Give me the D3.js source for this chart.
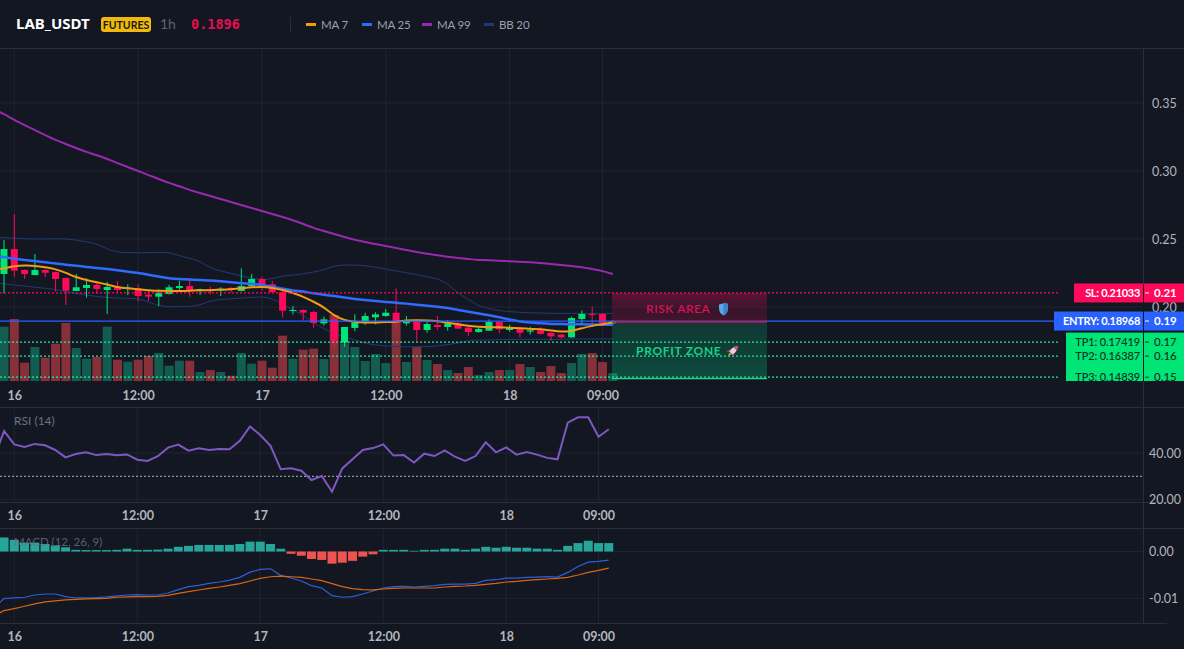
<!DOCTYPE html>
<html>
<head>
<meta charset="utf-8">
<script src="https://cdn.jsdelivr.net/npm/d3@7/dist/d3.min.js"></script>
<style>
html,body{margin:0;padding:0;background:#131722;overflow:hidden}
svg{display:block}
text{font-family:Lato,"Noto Sans",sans-serif}
</style>
</head>
<body>
<svg id="chart" width="1184" height="649"></svg>
<script>
// Hourly candles; index 0 is the 00:00 bar of the 16th, the first bar is index -1.
const firstBar = -1;
const opens = [.2243,.2426,.2272,.2235,.2272,.2257,.2213,.2118,.2140,.2162,.2125,.2147,.2135,.2137,.2091,.2076,.2096,.2140,.2154,.2125,.2132,.2130,.2140,.2118,.2154,.2206,.2167,.2110,.1973,.1978,.1963,.1880,.1909,.1738,.1846,.1887,.1924,.1934,.1958,.1880,.1892,.1831,.1868,.1853,.1880,.1848,.1816,.1826,.1890,.1831,.1838,.1819,.1828,.1809,.1797,.1777,.1912,.1949,.1949,.1880];
const closes = [.2426,.2267,.2243,.2272,.2252,.2206,.2120,.2145,.2162,.2132,.2147,.2125,.2142,.2081,.2076,.2103,.2145,.2154,.2120,.2132,.2125,.2135,.2130,.2154,.2206,.2164,.2110,.1973,.1978,.1958,.1882,.1909,.1750,.1853,.1887,.1934,.1946,.1958,.1892,.1897,.1831,.1875,.1853,.1880,.1841,.1816,.1838,.1890,.1836,.1848,.1811,.1828,.1802,.1784,.1777,.1919,.1949,.1944,.1880,.1896];
const highs = [.2492,.2684,.2277,.2390,.2277,.2260,.2216,.2243,.2211,.2174,.2184,.2191,.2167,.2167,.2130,.2130,.2162,.2191,.2208,.2135,.2149,.2145,.2149,.2284,.2243,.2221,.2191,.2125,.2007,.1983,.1971,.1929,.1941,.1853,.1946,.1958,.1961,.1985,.2137,.1934,.1909,.1897,.1934,.1904,.1892,.1855,.1848,.1909,.1897,.1868,.1855,.1855,.1851,.1814,.1802,.1929,.1975,.2002,.1953,.1905];
const lows = [.2100,.2223,.2206,.2233,.2218,.2113,.2015,.2118,.2069,.2100,.1949,.2105,.2088,.2039,.2044,.2007,.2091,.2120,.2076,.2088,.2096,.2081,.2105,.2115,.2149,.2120,.2105,.1922,.1946,.1900,.1848,.1863,.1704,.1708,.1824,.1868,.1873,.1929,.1848,.1863,.1745,.1811,.1831,.1826,.1838,.1787,.1811,.1824,.1809,.1819,.1775,.1797,.1797,.1753,.1767,.1772,.1868,.1875,.1868,.1875];
const volumes = [165,188,57,104,72,114,176,101,69,74,165,66,60,66,77,86,48,63,63,29,35,29,18,86,54,63,42,138,69,96,99,68,200,115,104,62,83,56,180,59,104,65,53,35,26,44,20,29,35,35,53,44,29,47,26,56,83,86,59,26];

// Overlay and oscillator lines start one bar earlier, at index -2.
const firstLine = -2;
const ma7 = [.2272,.2284,.2301,.2306,.2304,.2292,.2279,.2252,.2218,.2198,.2181,.2167,.2145,.2137,.2130,.2123,.2118,.2118,.2118,.2120,.2123,.2123,.2127,.2130,.2137,.2145,.2149,.2142,.2125,.2105,.2076,.2039,.2000,.1934,.1902,.1890,.1885,.1885,.1890,.1890,.1902,.1904,.1902,.1897,.1885,.1873,.1860,.1855,.1851,.1851,.1848,.1843,.1838,.1838,.1828,.1816,.1824,.1843,.1863,.1873,.1887];
const ma25 = [.2375,.2368,.2353,.2345,.2338,.2328,.2321,.2311,.2304,.2294,.2287,.2279,.2270,.2260,.2250,.2238,.2223,.2211,.2206,.2203,.2198,.2196,.2189,.2181,.2174,.2172,.2162,.2149,.2135,.2120,.2115,.2100,.2091,.2081,.2069,.2059,.2051,.2044,.2037,.2032,.2025,.2017,.2010,.2002,.1993,.1978,.1966,.1953,.1939,.1924,.1909,.1892,.1885,.1880,.1875,.1875,.1873,.1873,.1870,.1870,.1870];
const ma99 = [.3456,.3419,.3374,.3338,.3301,.3264,.3227,.3198,.3169,.3139,.3117,.3088,.3058,.3029,.3000,.2970,.2941,.2911,.2889,.2860,.2838,.2816,.2794,.2772,.2750,.2728,.2706,.2684,.2662,.2639,.2610,.2581,.2559,.2537,.2515,.2492,.2478,.2463,.2448,.2434,.2419,.2404,.2390,.2382,.2368,.2360,.2353,.2345,.2345,.2338,.2338,.2331,.2331,.2323,.2316,.2309,.2301,.2294,.2279,.2265,.2243];
const bbUpper = [.2510,.2510,.2507,.2502,.2500,.2500,.2502,.2502,.2492,.2478,.2468,.2424,.2402,.2399,.2399,.2399,.2402,.2402,.2377,.2358,.2338,.2284,.2265,.2247,.2228,.2213,.2198,.2208,.2228,.2235,.2243,.2257,.2272,.2304,.2309,.2309,.2304,.2292,.2279,.2265,.2252,.2238,.2223,.2208,.2172,.2100,.2056,.2007,.1988,.1973,.1966,.1961,.1958,.1956,.1953,.1953,.1953,.1953,.1953,.1953,.1953];
const bbLower = [.2174,.2172,.2162,.2154,.2145,.2137,.2130,.2113,.2100,.2088,.2076,.2071,.2066,.2064,.2061,.2039,.2007,.2002,.2002,.2005,.2012,.2047,.2056,.2061,.2066,.2071,.2076,.2064,.2022,.1978,.1941,.1880,.1843,.1802,.1782,.1757,.1733,.1721,.1713,.1708,.1708,.1708,.1708,.1713,.1723,.1735,.1755,.1757,.1757,.1760,.1762,.1762,.1762,.1762,.1762,.1762,.1765,.1765,.1765,.1765,.1765];
const rsi = [37.7,49.4,43.7,42.6,43.9,43.3,41.3,38.1,39.6,40.3,39.1,39.6,39.0,39.4,37.1,36.6,38.6,42.3,43.6,41.0,42.0,41.3,41.7,41.6,45.2,51.4,47.7,43.1,33.0,33.4,32.4,28.4,30.1,23.4,33.4,37.3,41.3,42.1,43.7,38.9,39.1,35.9,39.7,38.7,41.1,38.4,36.6,38.7,44.6,40.3,42.4,39.3,40.4,39.3,37.9,37.3,53.0,55.3,55.3,47.0,50.2];
const macdLine = [-.01205,-.01007,-.00993,-.00978,-.00929,-.00908,-.00908,-.00964,-.00993,-.00993,-.00986,-.00971,-.00950,-.00929,-.00922,-.00929,-.00929,-.00886,-.00815,-.00752,-.00723,-.00681,-.00652,-.00610,-.00553,-.00440,-.00383,-.00369,-.00510,-.00567,-.00631,-.00730,-.00780,-.00943,-.00978,-.00964,-.00908,-.00844,-.00780,-.00752,-.00744,-.00759,-.00744,-.00730,-.00702,-.00695,-.00695,-.00681,-.00617,-.00603,-.00567,-.00567,-.00553,-.00546,-.00539,-.00546,-.00447,-.00319,-.00227,-.00213,-.00184];
const signalLine = [-.01383,-.01262,-.01219,-.01170,-.01120,-.01078,-.01056,-.01035,-.01021,-.01014,-.01007,-.01000,-.00978,-.00971,-.00964,-.00964,-.00957,-.00936,-.00893,-.00858,-.00822,-.00787,-.00759,-.00723,-.00688,-.00631,-.00574,-.00539,-.00525,-.00539,-.00553,-.00588,-.00624,-.00688,-.00752,-.00794,-.00815,-.00822,-.00801,-.00787,-.00780,-.00780,-.00780,-.00780,-.00759,-.00744,-.00737,-.00723,-.00702,-.00681,-.00652,-.00638,-.00617,-.00603,-.00588,-.00574,-.00553,-.00503,-.00447,-.00404,-.00355];
const macdHist = [.0030,.0025,.0019,.0019,.0016,.0013,.0009,.00035,.0003,.0003,.0003,.00035,.0006,.00035,.00035,.0004,.0006,.0010,.0012,.0014,.0014,.0014,.0014,.0016,.0021,.0021,.0016,.0006,-.0005,-.0009,-.0016,-.0018,-.0026,-.0024,-.0020,-.0011,-.0006,.00035,.00035,.00035,.00015,.00035,.00035,.0006,.0006,.00035,.0006,.0010,.0008,.0010,.0008,.0008,.0006,.0006,.00035,.0012,.0018,.0023,.0018,.0018];

// Time axis and price levels.
const timeTicks = [0,12,24,36,48,57];
const timeLabels = ["16","12:00","17","12:00","18","09:00"];
const priceTicks = [.35,.30,.25,.20];
const levelNames = ["SL","ENTRY","TP1","TP2","TP3"];
const levelPrices = [.21033,.18968,.17419,.16387,.14839];
const levelAxisLabels = ["0.21","0.19","0.17","0.16","0.15"];
const rsiTicks = [40,20];
const macdTicks = [0,-.01];
const legendNames = ["MA 7","MA 25","MA 99","BB 20"];
const lastPrice = .1896;

const C = {bg:"#131722",grid:"#1f2430",border:"#2a2e39",axis:"#b2b5be",up:"#00e676",down:"#ff0a5a",
  volUp:"#125c50",volDown:"#873039",ma7:"#f39c12",ma25:"#2f6bff",ma99:"#9c27b0",bb:"#1f3a78",
  rsi:"#7e57c2",mUp:"#26a69a",mDown:"#ef5350",mLine:"#2e5fd8",mSig:"#d9660f",entry:"#2962ff"};

const svg = d3.select("#chart");
const W = 1184, axisX = 1143;
const defs = svg.append("defs");
const clip = (id,x,y,w,h)=>defs.append("clipPath").attr("id",id).append("rect").attr("x",x).attr("y",y).attr("width",w).attr("height",h);
clip("mainClip",0,49,axisX,332);
clip("rsiClip",0,408,axisX,94);
clip("macdClip",0,529,axisX,94);
clip("tagClip",0,49,W,332);

const xMain = d3.scaleLinear().domain([0,57]).range([14.3,602.5]);
const xSub = d3.scaleLinear().domain([0,57]).range([14.3,598.5]);
const yPrice = d3.scaleLinear().domain([.2,.35]).range([307,103]);
const yVol = d3.scaleLinear().domain([0,200]).range([381.7,315]);
const yRsi = d3.scaleLinear().domain([20,40]).range([499.6,453]);
const yMacd = d3.scaleLinear().domain([-.01,0]).range([598.3,551.5]);

const bars = opens.map((o,k)=>({i:k+firstBar,o,c:closes[k],h:highs[k],l:lows[k],v:volumes[k],m:macdHist[k]}));

// Pane frames
const hLine=(y,x2,col)=>svg.append("line").attr("x1",0).attr("x2",x2).attr("y1",y).attr("y2",y).attr("stroke",col||C.border);
hLine(48.5,W);hLine(407.5,W);hLine(502.5,1167);hLine(528.5,W);hLine(623.5,1167);

// Time axes with grid lines for each pane
function timeAxis(x,top,bottom,labelBase){
  const g = svg.append("g").attr("transform",`translate(0,${bottom})`);
  g.call(d3.axisBottom(x).tickValues(timeTicks).tickFormat((d,k)=>timeLabels[k]).tickSize(0).tickPadding(labelBase-bottom-10));
  g.select(".domain").remove();
  g.selectAll("text").attr("fill",C.axis).attr("font-size",12.5).attr("font-weight",700).style("font-family",'Lato,"Noto Sans",sans-serif');
  svg.append("g").selectAll("line").data(timeTicks).join("line")
    .attr("x1",d=>x(d)).attr("x2",d=>x(d)).attr("y1",top).attr("y2",bottom).attr("stroke",C.grid);
}
timeAxis(xMain,49,381,401);
timeAxis(xSub,408,502,521);
timeAxis(xSub,529,623,642);
svg.append("line").attr("x1",axisX+.5).attr("x2",axisX+.5).attr("y1",49).attr("y2",623).attr("stroke",C.border);

// Value axes
function valueAxis(y,ticks,fmt,pad){
  const g = svg.append("g").attr("transform",`translate(${axisX},0)`);
  g.call(d3.axisRight(y).tickValues(ticks).tickFormat(fmt).tickSize(0).tickPadding(pad));
  g.select(".domain").remove();
  g.selectAll("line").attr("stroke",C.border);
  g.selectAll("text").attr("fill",C.axis).attr("font-size",12.5).style("font-family",'Lato,"Noto Sans",sans-serif');
  svg.append("g").selectAll("line").data(ticks).join("line")
    .attr("x1",0).attr("x2",axisX).attr("y1",d=>y(d)).attr("y2",d=>y(d)).attr("stroke",C.grid);
}
valueAxis(yPrice,priceTicks,d3.format(".2f"),9);
valueAxis(yRsi,rsiTicks,d3.format(".2f"),6);
valueAxis(yMacd,macdTicks,d=>d3.format(".2f")(d).replace("−","-"),6);

// Main pane marks
const main = svg.append("g").attr("clip-path","url(#mainClip)");
main.append("g").selectAll("rect").data(bars).join("rect")
  .attr("x",d=>xMain(d.i)-4.5).attr("width",9).attr("y",d=>yVol(d.v)).attr("height",d=>yVol(0)-yVol(d.v))
  .attr("fill",d=>d.c>=d.o?C.volUp:C.volDown);

const lineIn=(x,y,curve)=>d3.line().x((d,k)=>x(k+firstLine)).y(d=>y(d)).curve(curve||d3.curveLinear);
const priceLine = lineIn(xMain,yPrice,d3.curveBasis);
[[bbUpper,C.bb,1],[bbLower,C.bb,1],[ma99,C.ma99,2]].forEach(([s,c,w])=>
  main.append("path").attr("d",priceLine(s)).attr("fill","none").attr("stroke",c).attr("stroke-width",w));

// Level lines
levelNames.forEach((n,k)=>{
  const isEntry = n==="ENTRY", isSL = n==="SL", y = yPrice(levelPrices[k]);
  svg.append("line").attr("x1",0).attr("x2",1060).attr("y1",y).attr("y2",y)
    .attr("stroke",isEntry?C.entry:isSL?C.down:"#2ee6a0").attr("stroke-width",isEntry?1.3:1.2)
    .attr("stroke-dasharray",isEntry?null:"2 2");
});

const cg = main.append("g");
cg.selectAll("line").data(bars).join("line")
  .attr("x1",d=>xMain(d.i)).attr("x2",d=>xMain(d.i)).attr("y1",d=>yPrice(d.h)).attr("y2",d=>yPrice(d.l))
  .attr("stroke",d=>d.c>=d.o?C.up:C.down);
cg.selectAll("rect").data(bars).join("rect")
  .attr("x",d=>xMain(d.i)-3.5).attr("width",7)
  .attr("y",d=>yPrice(Math.max(d.o,d.c)))
  .attr("height",d=>Math.max(1,yPrice(Math.min(d.o,d.c))-yPrice(Math.max(d.o,d.c))))
  .attr("fill",d=>d.c>=d.o?C.up:C.down);

[[ma25,C.ma25,2.5],[ma7,C.ma7,2]].forEach(([s,c,w])=>
  main.append("path").attr("d",priceLine(s)).attr("fill","none").attr("stroke",c).attr("stroke-width",w));

// Risk and profit zones
const grad=(id,stops)=>{const g=defs.append("linearGradient").attr("id",id).attr("x1",0).attr("x2",0).attr("y1",0).attr("y2",1);
  stops.forEach(([o,c,a])=>g.append("stop").attr("offset",o).attr("stop-color",c).attr("stop-opacity",a));};
grad("riskFill",[[0,"#ff0a5a",.32],[.6,"#ff0a5a",.15],[1,"#ff0a5a",.2]]);
grad("profitFill",[[0,"#00dc8c",.17],[.5,"#00dc8c",.2],[1,"#00dc8c",.27]]);
const zoneX0 = 612, zoneX1 = 767;
const [ySL,yEntry,,,yTP3] = levelPrices.map(p=>yPrice(p));
svg.append("rect").attr("x",zoneX0).attr("width",zoneX1-zoneX0).attr("y",ySL).attr("height",yEntry-ySL).attr("fill","url(#riskFill)");
svg.append("rect").attr("x",zoneX0).attr("width",zoneX1-zoneX0).attr("y",yEntry).attr("height",yTP3+1.5-yEntry).attr("fill","url(#profitFill)");
svg.append("line").attr("x1",zoneX0).attr("x2",zoneX1).attr("y1",yEntry+1).attr("y2",yEntry+1).attr("stroke","#c4144f").attr("stroke-width",1.5);
svg.append("line").attr("x1",zoneX0).attr("x2",zoneX1).attr("y1",yTP3+1.5).attr("y2",yTP3+1.5).attr("stroke","#1fd68a").attr("stroke-width",1.2);
svg.append("text").attr("x",646).attr("y",313).text("RISK AREA").attr("fill","#e01058").attr("font-size",12).attr("font-weight",500).attr("letter-spacing",.6);
svg.append("text").attr("x",636).attr("y",355).text("PROFIT ZONE").attr("fill","#12d484").attr("font-size",12).attr("font-weight",700).attr("letter-spacing",.7);
// Small shield and rocket symbols beside the zone captions
svg.append("path").attr("d","M719 304.5 Q723.5 302.5 728 304.5 L728 309 Q727.5 313.5 723.5 315.5 Q719.5 313.5 719 309Z").attr("fill","#5aa7e8");
svg.append("path").attr("d","M723.5 302.8 Q728 302.5 728 304.5 L728 309 Q727.5 313.5 723.5 315.5Z").attr("fill","#3d85c9");
const rocket = svg.append("g").attr("transform","translate(733,351) rotate(45)");
rocket.append("path").attr("d","M0 -7 Q3.2 -3 2.6 3 L-2.6 3 Q-3.2 -3 0 -7Z").attr("fill","#d9d6dc");
rocket.append("path").attr("d","M0 -7 Q2 -5 2.6 -3 L-2.6 -3 Q-2 -5 0 -7Z").attr("fill","#e0407a");
rocket.append("path").attr("d","M-2.6 1 L-4.5 5 L-1.5 3Z M2.6 1 L4.5 5 L1.5 3Z").attr("fill","#e0407a");
rocket.append("path").attr("d","M-1.5 3.5 L0 7 L1.5 3.5Z").attr("fill","#f39c12");

// Level tags on the value axis
const tags = svg.append("g").attr("clip-path","url(#tagClip)");
const tagStyle = {SL:[C.down,"#fff",1074],ENTRY:[C.entry,"#fff",1054],TP1:[C.up,"#0d2f22",1066],TP2:[C.up,"#0d2f22",1066],TP3:[C.up,"#0d2f22",1066]};
levelNames.forEach((n,k)=>{
  const y = yPrice(levelPrices[k]), [bg,,x0] = tagStyle[n];
  const top = y-9.5;
  tags.append("rect").attr("x",x0).attr("y",top).attr("width",W-x0).attr("height",n==="TP1"?(yPrice(levelPrices[3])-top):n==="TP2"?(yPrice(levelPrices[4])-top):19).attr("fill",bg);
});
levelNames.forEach((n,k)=>{
  const y = yPrice(levelPrices[k]), [,fg] = tagStyle[n];
  tags.append("text").attr("x",1140).attr("y",y+4).attr("text-anchor","end").attr("fill",fg).attr("font-size",11).attr("font-weight",n[0]==="T"?500:700)
    .attr("letter-spacing",n[0]==="T"?-.1:-.3).text(`${n}: ${levelPrices[k].toFixed(5)}`);
  tags.append("line").attr("x1",axisX+2).attr("x2",axisX+6).attr("y1",y).attr("y2",y).attr("stroke",fg);
  tags.append("text").attr("x",1154).attr("y",y+4).attr("fill",fg).attr("font-size",11.5).attr("font-weight",n[0]==="T"?500:700).text(levelAxisLabels[k]);
});
svg.append("line").attr("x1",axisX+.5).attr("x2",axisX+.5).attr("y1",284).attr("y2",381).attr("stroke","#131722");

// RSI pane
svg.append("line").attr("x1",0).attr("x2",axisX).attr("y1",yRsi(30)).attr("y2",yRsi(30)).attr("stroke","#d1d4dc").attr("stroke-dasharray","2 2").attr("opacity",.85);
svg.append("g").attr("clip-path","url(#rsiClip)").append("path")
  .attr("d",lineIn(xSub,yRsi)(rsi)).attr("fill","none").attr("stroke",C.rsi).attr("stroke-width",2);
svg.append("text").attr("x",14).attr("y",425).text("RSI (14)").attr("fill","#6b7280").attr("font-size",12);

// MACD pane
const mg = svg.append("g").attr("clip-path","url(#macdClip)");
mg.append("g").selectAll("rect").data(bars).join("rect")
  .attr("x",d=>xSub(d.i)-4.5).attr("width",9)
  .attr("y",d=>d.m>=0?yMacd(d.m):yMacd(0)).attr("height",d=>Math.abs(yMacd(d.m)-yMacd(0)))
  .attr("fill",d=>d.m>=0?C.mUp:C.mDown);
mg.append("path").attr("d",lineIn(xSub,yMacd)(macdLine)).attr("fill","none").attr("stroke",C.mLine).attr("stroke-width",1.2);
mg.append("path").attr("d",lineIn(xSub,yMacd)(signalLine)).attr("fill","none").attr("stroke",C.mSig).attr("stroke-width",1.2);
svg.append("text").attr("x",14).attr("y",546).text("MACD (12, 26, 9)").attr("fill","#6b7280").attr("font-size",11.5).attr("opacity",.8);

// Header
svg.append("text").attr("x",16).attr("y",29).text("LAB_USDT").attr("fill","#fff").attr("font-size",15).attr("font-weight",700).style("font-family",'"Noto Sans",sans-serif');
svg.append("rect").attr("x",101).attr("y",17).attr("width",50).attr("height",15).attr("rx",3).attr("fill","#f0b90b");
svg.append("text").attr("x",126).attr("y",28.5).attr("text-anchor","middle").text("FUTURES").attr("fill","#1a1a1a").attr("font-size",10.5).attr("font-weight",700);
svg.append("text").attr("x",160).attr("y",29).text("1h").attr("fill","#5d6373").attr("font-size",14);
svg.append("text").attr("x",191).attr("y",29).text(lastPrice.toFixed(4)).attr("fill","#e60e50").attr("font-size",13.5).attr("font-weight",700).style("font-family",'"DejaVu Sans Mono",monospace');
svg.append("line").attr("x1",290.5).attr("x2",290.5).attr("y1",17).attr("y2",32).attr("stroke",C.border);
[C.ma7,C.ma25,C.ma99,C.bb].forEach((c,k)=>{
  const n = legendNames[k], x = [306,362,422,484][k];
  svg.append("rect").attr("x",x).attr("y",23).attr("width",10).attr("height",3).attr("fill",c);
  svg.append("text").attr("x",x+15).attr("y",28.5).text(n).attr("fill","#9aa0ad").attr("font-size",11.5).attr("letter-spacing",-.15);
});
</script>
</body>
</html>
